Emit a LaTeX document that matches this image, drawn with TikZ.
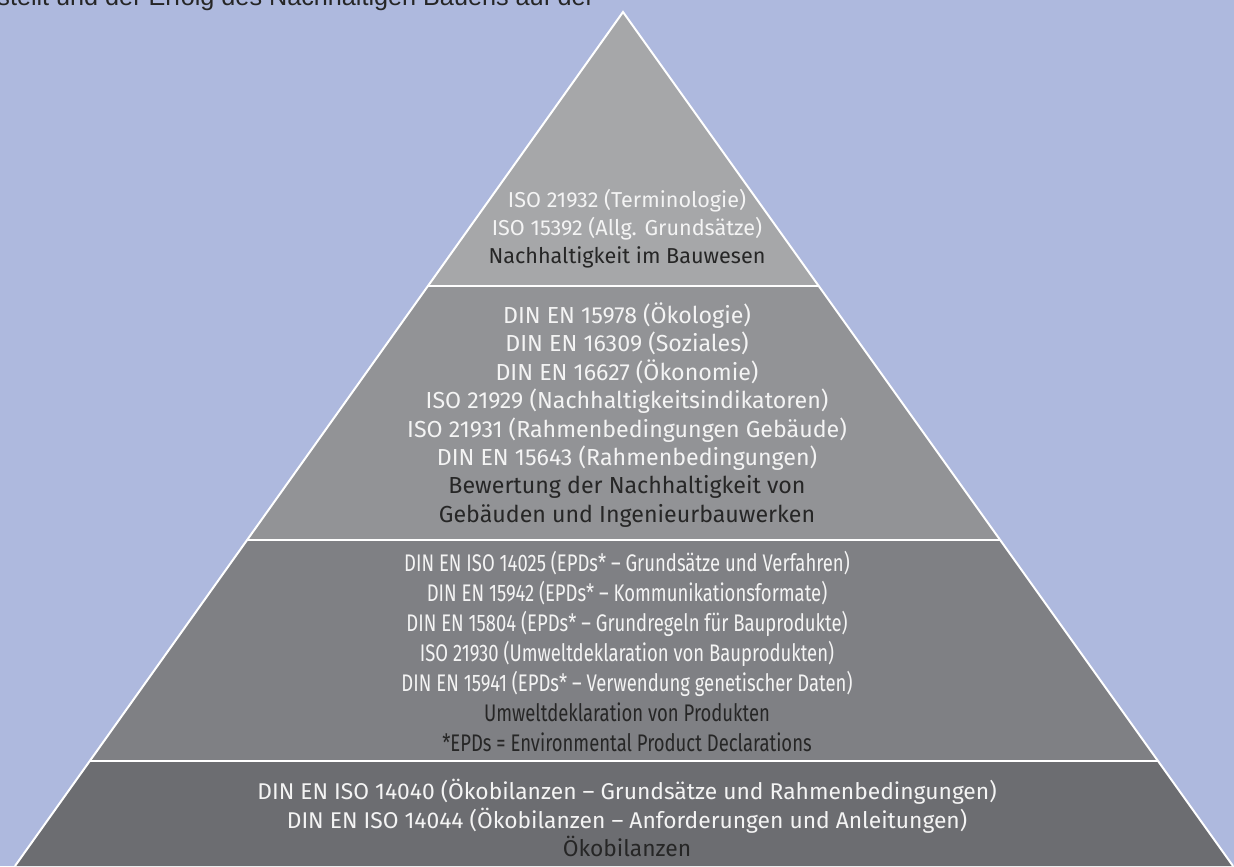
\documentclass[tikz,border=0pt]{standalone}
\usepackage{fontspec}
\setmainfont{Fira Sans}
\newfontfamily\narrowfont[FakeStretch=0.77]{Fira Sans}
\newfontfamily\introfont{Liberation Sans}
\usetikzlibrary{calc}
\definecolor{bgblue}{HTML}{AEB9DE}
\definecolor{tierone}{HTML}{A6A7A9}
\definecolor{tiertwo}{HTML}{929396}
\definecolor{tierthree}{HTML}{7F8084}
\definecolor{tierfour}{HTML}{6C6D71}
\definecolor{textlight}{HTML}{F4F4F4}
\definecolor{textdark}{HTML}{262626}

\begin{document}
\begin{tikzpicture}[
    x=0.5pt, y=-0.5pt,
    tier/.style={draw=white, line width=1pt},
    standards/.style={align=center, text=textlight, inner sep=0pt, font=\fontsize{10.8}{14}\selectfont}
]
\clip (0,0) rectangle (1234,866);
\fill[bgblue] (0,0) rectangle (1234,866);

\node[anchor=base west, inner sep=0pt, text=textdark, font=\introfont\fontsize{12.6}{14}\selectfont] (intro) at (-3,6) {stellt und der Erfolg des Nachhaltigen Bauens auf der};

% pyramid corners and tier borders
\coordinate (apex) at (623,12);
\coordinate (bl) at (15,866);
\coordinate (br) at (1233,866);
\coordinate (l1) at ($(apex)!0.3208!(bl)$);
\coordinate (r1) at ($(apex)!0.3208!(br)$);
\coordinate (l2) at ($(apex)!0.6183!(bl)$);
\coordinate (r2) at ($(apex)!0.6183!(br)$);
\coordinate (l3) at ($(apex)!0.8770!(bl)$);
\coordinate (r3) at ($(apex)!0.8770!(br)$);

\fill[tierone] (apex) -- (l1) -- (r1) -- cycle;
\fill[tiertwo] (l1) -- (l2) -- (r2) -- (r1) -- cycle;
\fill[tierthree] (l2) -- (l3) -- (r3) -- (r2) -- cycle;
\fill[tierfour] (l3) -- (bl) -- (br) -- (r3) -- cycle;
\draw[tier] (bl) -- (apex) -- (br);
\draw[tier] (l1) -- (r1);
\draw[tier] (l2) -- (r2);
\draw[tier] (l3) -- (r3);

\node[standards] (top) at (627,229) {ISO 21932 (Terminologie)\\ISO 15392 (Allg. Grundsätze)\\\textcolor{textdark}{Nachhaltigkeit im Bauwesen}};
\node[standards, font=\fontsize{11.6}{14.2}\selectfont] (rating) at (627,415) {DIN EN 15978 (Ökologie)\\DIN EN 16309 (Soziales)\\DIN EN 16627 (Ökonomie)\\ISO 21929 (Nachhaltigkeitsindikatoren)\\ISO 21931 (Rahmenbedingungen Gebäude)\\DIN EN 15643 (Rahmenbedingungen)\\\textcolor{textdark}{Bewertung der Nachhaltigkeit von}\\\textcolor{textdark}{Gebäuden und Ingenieurbauwerken}};
\node[standards, font=\narrowfont\fontsize{12}{15}\selectfont] (epd) at (627,651) {DIN EN ISO 14025 (EPDs* – Grundsätze und Verfahren)\\DIN EN 15942 (EPDs* – Kommunikationsformate)\\DIN EN 15804 (EPDs* – Grundregeln für Bauprodukte)\\ISO 21930 (Umweltdeklaration von Bauprodukten)\\DIN EN 15941 (EPDs* – Verwendung genetischer Daten)\\\textcolor{textdark}{Umweltdeklaration von Produkten}\\\textcolor{textdark}{*EPDs = Environmental Product Declarations}};
\node[standards, font=\fontsize{11.4}{14.3}\selectfont] (lca) at (627,818) {DIN EN ISO 14040 (Ökobilanzen – Grundsätze und Rahmenbedingungen)\\DIN EN ISO 14044 (Ökobilanzen – Anforderungen und Anleitungen)\\\textcolor{textdark}{Ökobilanzen}};
\end{tikzpicture}
\end{document}
